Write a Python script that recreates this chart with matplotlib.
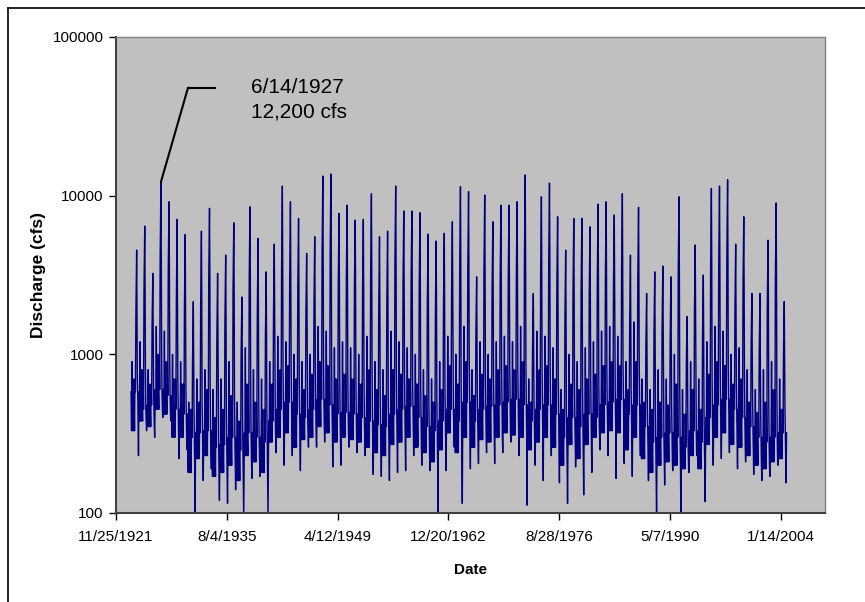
import pandas as pd
import numpy as np
import matplotlib
matplotlib.use('Agg')
import matplotlib.pyplot as plt
from matplotlib.lines import Line2D

# water years (Oct 1 of the year before -> Sep 30)
years = list(range(1924, 2005))

# annual snowmelt peak (cfs)
peak = [4540, 6430, 3240, 12200, 9160, 7090, 5700,
        2150, 5980, 8320, 3240, 4220, 6750, 2300, 8510, 5380, 3310,
        4950, 11500, 9160, 7190, 4330, 5510, 13300, 13700, 7730, 8720,
        7020, 7090, 10300, 5510, 5980, 11500, 8000, 8000, 7810, 5730,
        5180, 5790, 6850, 11400, 10600, 3080, 10100, 6850, 8720, 8720,
        9160, 13500, 2420, 9840, 12000, 7360, 4540, 7190, 7190, 6370,
        8850, 9160, 7550, 10300, 4220, 8440, 2420, 3310, 3600, 3080,
        9840, 1730, 4890, 3160, 11100, 11500, 12600, 4950, 7360, 2420,
        2420, 5240, 9000, 2150]

# spring rise / recession shoulder
rise = [1800, 2500, 1500, 4000, 3500, 2200, 2000,
        900, 2000, 3000, 1200, 1600, 2500, 1000, 3000, 1800, 1300,
        1800, 3500, 3000, 2600, 1700, 2000, 4000, 4500, 2800, 3000,
        2600, 2500, 3200, 2000, 2100, 3800, 2800, 2900, 2600, 2000,
        1800, 2000, 2400, 3600, 3500, 1300, 3300, 2500, 3000, 3000,
        3100, 4200, 1100, 3200, 3900, 2600, 1700, 2500, 2500, 2300,
        3000, 3100, 2700, 3400, 1600, 3000, 1100, 1300, 1400, 1200,
        3300, 900, 1800, 1300, 3600, 3800, 4000, 1800, 2600, 1100,
        1000, 2000, 3000, 1000]

# fall / winter storm spike
storm = [900, 1200, 800, 1500, 1400, 1000, 900,
         500, 700, 800, 600, 700, 900, 500, 1100, 800, 700,
         900, 1300, 1200, 1000, 900, 1000, 1500, 1400, 1100, 1200,
         1100, 1000, 1300, 900, 800, 1400, 1200, 1100, 1000, 800,
         700, 900, 1300, 1000, 1500, 800, 1200, 1000, 1200, 1300,
         1200, 1500, 700, 1400, 1300, 1100, 600, 1000, 900, 1100,
         1200, 1400, 1500, 1300, 900, 1600, 700, 600, 800, 700,
         1000, 600, 900, 700, 1200, 1500, 1400, 1000, 1100, 800,
         600, 800, 900, 700]

# smaller in-between rises
mid = [700, 800, 650, 1000, 900, 700, 650,
       450, 500, 600, 400, 450, 550, 380, 650, 500, 450,
       650, 800, 850, 700, 600, 750, 900, 850, 700, 750,
       700, 650, 800, 600, 550, 800, 750, 700, 650, 550,
       500, 600, 850, 650, 900, 550, 750, 700, 800, 850,
       800, 900, 500, 800, 850, 700, 450, 650, 600, 700,
       750, 850, 900, 850, 600, 900, 500, 450, 500, 480,
       650, 420, 600, 450, 750, 900, 850, 650, 700, 500,
       430, 500, 600, 450]

# typical base flow
base = [580, 450, 480, 600, 550, 450, 420,
        300, 320, 330, 260, 270, 300, 250, 320, 300, 280,
        380, 450, 500, 420, 400, 450, 520, 480, 420, 430,
        420, 400, 380, 360, 350, 420, 450, 470, 400, 350,
        330, 380, 450, 380, 500, 380, 450, 470, 480, 500,
        520, 480, 380, 450, 480, 420, 300, 400, 350, 420,
        400, 480, 500, 520, 420, 480, 350, 280, 300, 320,
        300, 260, 330, 280, 400, 480, 520, 450, 400, 350,
        300, 280, 300, 320]

# winter low
winter = [330, 380, 350, 450, 420, 300, 300,
          180, 220, 230, 170, 180, 200, 160, 230, 210, 180,
          280, 300, 320, 260, 290, 300, 350, 320, 280, 300,
          290, 280, 260, 240, 230, 270, 280, 300, 260, 240,
          210, 250, 320, 240, 300, 260, 290, 280, 300, 320,
          310, 300, 250, 280, 300, 260, 200, 270, 220, 270,
          300, 320, 330, 320, 250, 300, 220, 180, 200, 210,
          200, 190, 230, 190, 270, 300, 320, 270, 260, 230,
          200, 190, 210, 220]

# late-summer minimum
low = [230, 330, 300, 400, 380, 220, 250,
       95, 160, 190, 120, 115, 140, 95, 165, 170, 95,
       240, 200, 230, 185, 260, 260, 280, 195, 200, 260,
       240, 230, 175, 170, 160, 180, 185, 230, 200, 185,
       95, 185, 260, 115, 190, 205, 240, 205, 240, 280,
       230, 112, 200, 160, 230, 155, 115, 195, 130, 180,
       250, 230, 165, 205, 170, 230, 160, 95, 150, 185,
       95, 180, 230, 118, 200, 220, 240, 190, 210, 175,
       160, 170, 200, 155]

tick_labels = ['11/25/1921', '8/4/1935', '4/12/1949', '12/20/1962',
               '8/28/1976', '5/7/1990', '1/14/2004']

# build the record from the yearly readings
dates, flow = [], []
for i, wy in enumerate(years):
    seq = [(wy - 1, 10, 5, base[i]), (wy - 1, 10, 28, winter[i]),
           (wy - 1, 11, 18, storm[i]), (wy - 1, 12, 8, winter[i]),
           (wy, 1, 2, mid[i]), (wy, 1, 25, winter[i]),
           (wy, 2, 15, base[i]), (wy, 3, 10, winter[i]),
           (wy, 3, 28, mid[i]), (wy, 4, 20, base[i]),
           (wy, 5, 10, rise[i]), (wy, 6, 14, peak[i]),
           (wy, 7, 1, rise[i]), (wy, 7, 15, mid[i]),
           (wy, 8, 1, base[i]), (wy, 8, 20, winter[i]),
           (wy, 9, 5, low[i]), (wy, 9, 25, base[i])]
    for y, m, d, v in seq:
        dates.append(pd.Timestamp(y, m, d))
        flow.append(v)
df = pd.DataFrame({'Date': dates, 'Discharge': flow})

fig = plt.figure(figsize=(8.65, 6.02), dpi=100)
ax = fig.add_axes([116 / 865, 89 / 602, 709 / 865, 476 / 602])
ax.set_facecolor('#C0C0C0')

ax.plot(df['Date'], df['Discharge'], color='#000080', lw=1.0)

ax.set_yscale('log')
ax.set_ylim(100, 100000)
ax.set_yticks([100, 1000, 10000, 100000])
ax.set_yticklabels(['100', '1000', '10000', '100000'])
ax.minorticks_off()

start = pd.Timestamp(1921, 11, 25)
ax.set_xlim(start, start + pd.Timedelta(days=31990))
ax.set_xticks([start + pd.Timedelta(days=5000 * k) for k in range(7)])
ax.set_xticklabels(tick_labels)

for lab in ax.get_xticklabels() + ax.get_yticklabels():
    lab.set_fontfamily('Liberation Sans')
    lab.set_fontsize(11)
ax.tick_params(direction='out', length=5, width=1, colors='black', pad=4)
ax.tick_params(axis='x', pad=7)

for s in ['left', 'bottom']:
    ax.spines[s].set_color('#404040')
    ax.spines[s].set_linewidth(1.5)
for s in ['top', 'right']:
    ax.spines[s].set_color('#808080')
    ax.spines[s].set_linewidth(1.0)

ax.set_xlabel('Date', fontfamily='Liberation Sans', fontsize=11,
              fontweight='bold', labelpad=14)
ax.set_ylabel('Discharge (cfs)', fontfamily='Liberation Sans', fontsize=12.5,
              fontweight='bold', labelpad=5)

# callout for the flood of record
ax.annotate('', xy=(pd.Timestamp(1927, 6, 14), 12200), xycoords='data',
            xytext=(0.1016, 0.8935), textcoords='axes fraction',
            arrowprops=dict(arrowstyle='-', color='black', lw=1.5,
                            shrinkA=0, shrinkB=0))
ax.plot([0.1016, 0.1396], [0.8935, 0.8935], color='black', lw=1.5,
        transform=ax.transAxes, clip_on=False)
ax.text(0.19, 0.8935, '6/14/1927', transform=ax.transAxes, va='center',
        fontfamily='Liberation Sans', fontsize=15)
ax.text(0.19, 0.843, '12,200 cfs', transform=ax.transAxes, va='center',
        fontfamily='Liberation Sans', fontsize=15)

# chart-area frame
fig.add_artist(Line2D([8 / 865, 8 / 865], [0, 594 / 602], color='black',
                      lw=1.2, transform=fig.transFigure))
fig.add_artist(Line2D([8 / 865, 1], [594 / 602, 594 / 602], color='black',
                      lw=1.2, transform=fig.transFigure))

fig.savefig('out.png', dpi=100, facecolor='white')
